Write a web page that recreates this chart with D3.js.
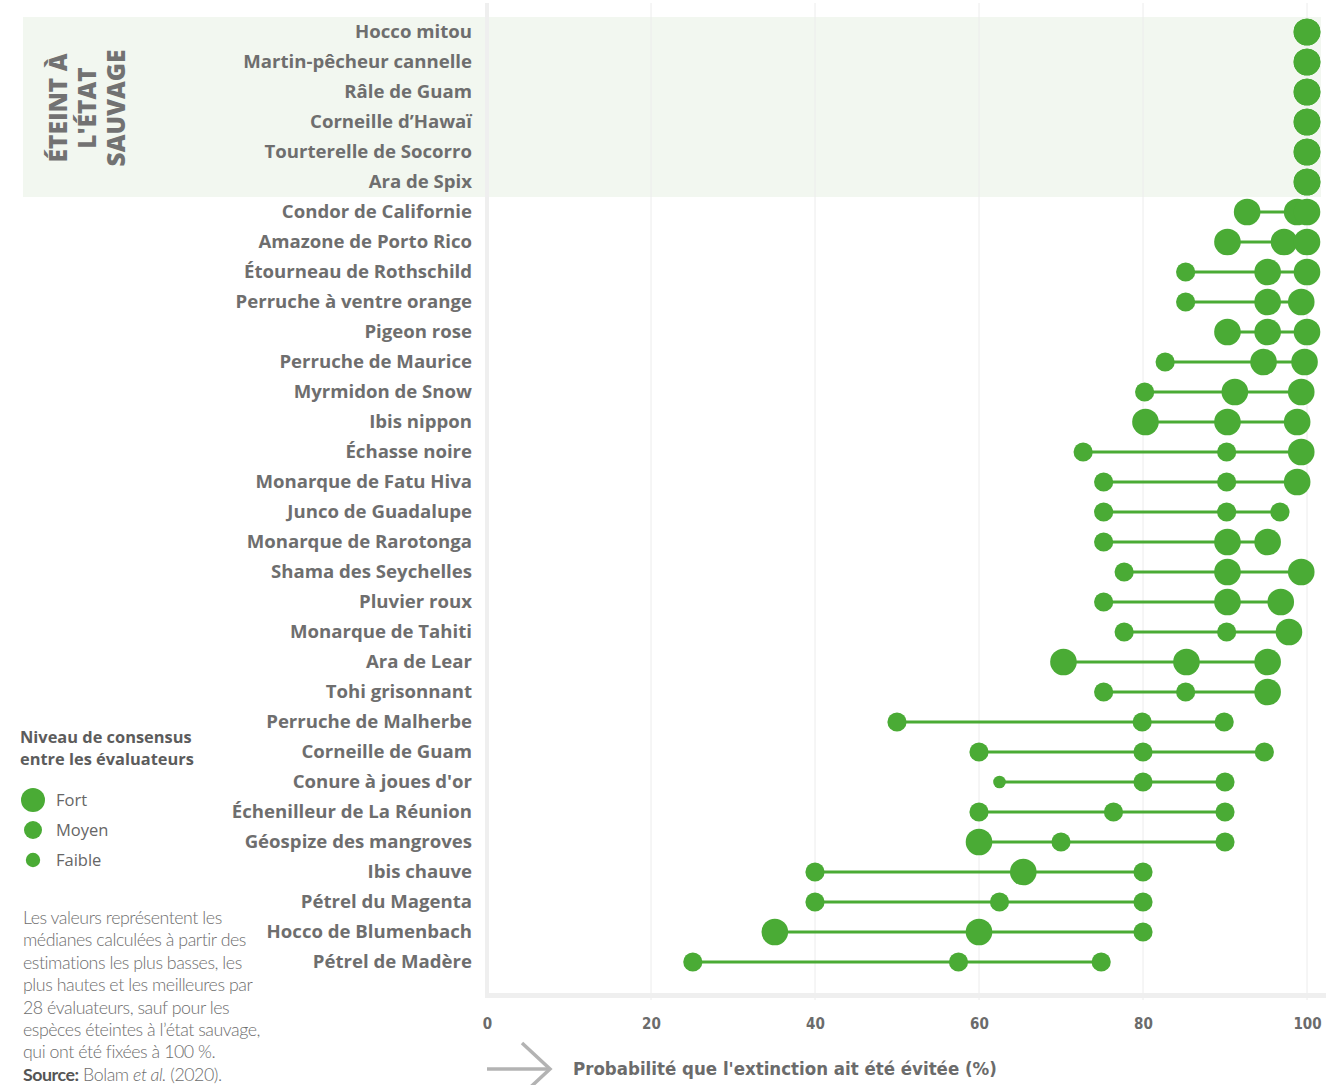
<!DOCTYPE html>
<html><head><meta charset="utf-8">
<script src="https://cdn.jsdelivr.net/npm/d3@7"></script>
<style>
html,body{margin:0;padding:0;background:#fff;}
svg{display:block;}
</style></head>
<body>
<svg id="chart" width="1326" height="1085"></svg>
<script>
const species = ["Hocco mitou","Martin-pêcheur cannelle","Râle de Guam","Corneille d’Hawaï","Tourterelle de Socorro","Ara de Spix","Condor de Californie","Amazone de Porto Rico","Étourneau de Rothschild","Perruche à ventre orange","Pigeon rose","Perruche de Maurice","Myrmidon de Snow","Ibis nippon","Échasse noire","Monarque de Fatu Hiva","Junco de Guadalupe","Monarque de Rarotonga","Shama des Seychelles","Pluvier roux","Monarque de Tahiti","Ara de Lear","Tohi grisonnant","Perruche de Malherbe","Corneille de Guam","Conure à joues d'or","Échenilleur de La Réunion","Géospize des mangroves","Ibis chauve","Pétrel du Magenta","Hocco de Blumenbach","Pétrel de Madère"];
const extinctCount = 6;
const low  = [100,100,100,100,100,100,92.7,90.3,85.2,85.2,90.3,82.7,80.2,80.3,72.7,75.2,75.2,75.2,77.7,75.2,77.7,70.3,75.2,50.0,60.0,62.5,60.0,60.0,40.0,40.0,35.1,25.1];
const best = [100,100,100,100,100,100,98.8,97.2,95.2,95.2,95.2,94.7,91.2,90.3,90.2,90.2,90.2,90.3,90.3,90.3,90.2,85.3,85.2,79.9,80.0,80.0,76.4,70.0,65.4,62.5,60.0,57.5];
const high = [100,100,100,100,100,100,100,100,100,99.3,100,99.7,99.3,98.8,99.3,98.8,96.7,95.2,99.3,96.8,97.8,95.2,95.2,89.9,94.8,90.0,90.0,90.0,80.0,80.0,80.0,74.9];
// consensus: F = Fort, M = Moyen, f = Faible
const lowCons  = ["F","F","F","F","F","F","F","F","M","M","F","M","M","F","M","M","M","M","M","M","M","F","M","M","M","f","M","F","M","M","F","M"];
const bestCons = ["F","F","F","F","F","F","F","F","F","F","F","F","F","F","M","M","M","F","F","F","M","F","M","M","M","M","M","M","F","M","F","M"];
const highCons = ["F","F","F","F","F","F","F","F","F","F","F","F","F","F","F","F","M","F","F","F","F","F","F","M","M","M","M","M","M","M","M","M"];
const xTicks = [0,20,40,60,80,100];
const legendKeys = ["F","M","f"];
const legendLabels = ["Fort","Moyen","Faible"];
const footnote = ["Les valeurs représentent les","médianes calculées à partir des","estimations les plus basses, les","plus hautes et les meilleures par","28 évaluateurs, sauf pour les","espèces éteintes à l’état sauvage,","qui ont été fixées à 100 %."];

const green = "#4aab35";
const labelGray = "#6e6e6e";
const svg = d3.select("#chart");

const x = d3.scaleLinear().domain([0,100]).range([487,1307]);
const y = d3.scalePoint().domain(species).range([32,962]);
const r = d3.scaleOrdinal().domain(["F","M","f"]).range([13.3,9.6,6.3]);
const rLegend = d3.scaleOrdinal().domain(["F","M","f"]).range([12,9,7.2]);

// extinct band
const step = y.step();
svg.append("rect")
  .attr("x",23).attr("y",y(species[0])-step/2)
  .attr("width",1321-23).attr("height",step*extinctCount)
  .attr("fill","#f2f7f0");

// gridlines
svg.append("g").selectAll("line").data(xTicks.slice(1)).join("line")
  .attr("x1",d=>x(d)).attr("x2",d=>x(d))
  .attr("y1",3).attr("y2",1000)
  .attr("stroke","#ececec").attr("stroke-width",1);

// left axis line
svg.append("line").attr("x1",x(0)).attr("x2",x(0)).attr("y1",3).attr("y2",997)
  .attr("stroke","#efefef").attr("stroke-width",4);
// bottom axis line
svg.append("line").attr("x1",x(0)-2).attr("x2",1326).attr("y1",995.5).attr("y2",995.5)
  .attr("stroke","#efefef").attr("stroke-width",5);

// x axis
const xAxis = d3.axisBottom(x).tickValues(xTicks).tickSize(0).tickPadding(0).tickFormat(d3.format("d"));
const gx = svg.append("g").attr("transform","translate(0,1018)").call(xAxis);
gx.select(".domain").remove();
gx.selectAll("text")
  .attr("font-family","'DejaVu Sans Condensed','DejaVu Sans',sans-serif")
  .attr("font-weight","bold").attr("font-size",15).attr("fill","#6b6b6b")
  .attr("dy","0.71em");

// species labels
const yAxis = d3.axisLeft(y).tickSize(0).tickPadding(0);
const gy = svg.append("g").attr("transform","translate(472,-1)").call(yAxis);
gy.select(".domain").remove();
gy.selectAll("text")
  .attr("font-family","'Open Sans',sans-serif").attr("font-weight",700)
  .attr("font-size",18.6).attr("fill",labelGray).attr("dy","0.35em");

// rows
const rows = species.map((s,i)=>({s,
  pts:[{v:low[i],c:lowCons[i]},{v:best[i],c:bestCons[i]},{v:high[i],c:highCons[i]}]}));
const gRows = svg.append("g");
gRows.selectAll("line").data(rows).join("line")
  .attr("x1",d=>x(d.pts[0].v)).attr("x2",d=>x(d.pts[2].v))
  .attr("y1",d=>y(d.s)).attr("y2",d=>y(d.s))
  .attr("stroke",green).attr("stroke-width",3);
gRows.selectAll("g.row").data(rows).join("g").attr("class","row")
  .selectAll("circle").data(d=>d.pts.map(p=>({...p,s:d.s}))).join("circle")
  .attr("cx",d=>x(d.v)).attr("cy",d=>y(d.s)).attr("r",d=>r(d.c))
  .attr("fill",green);

// vertical extinct label
const vt = svg.append("text")
  .attr("transform","translate(58,108) rotate(-90)")
  .attr("text-anchor","middle")
  .attr("font-family","'Open Sans',sans-serif").attr("font-weight",800)
  .attr("font-size",24.5).attr("fill","#727272");
["ÉTEINT À","L'ÉTAT","SAUVAGE"].forEach((t,i)=>{
  vt.append("tspan").attr("x",0).attr("y",i*29).attr("dy","0.35em").text(t);
});

// legend
const lg = svg.append("g");
lg.append("text").attr("x",20).attr("y",743)
  .attr("font-family","'Open Sans',sans-serif").attr("font-weight",700)
  .attr("font-size",16.4).attr("fill","#5c5c5c")
  .selectAll("tspan").data(["Niveau de consensus","entre les évaluateurs"]).join("tspan")
  .attr("x",20).attr("dy",(d,i)=>i?22:0).text(d=>d);
const li = lg.selectAll("g.li").data(legendKeys).join("g").attr("class","li")
  .attr("transform",(d,i)=>`translate(33,${800+i*30})`);
li.append("circle").attr("r",d=>rLegend(d)).attr("fill",green);
li.append("text").attr("x",23).attr("dy","0.35em")
  .attr("font-family","'Open Sans',sans-serif").attr("font-size",16.5).attr("fill","#666")
  .text((d,i)=>legendLabels[i]);

// footnote
const fn = svg.append("text").attr("font-family","Lato,'Open Sans',sans-serif")
  .attr("font-weight",300).attr("font-size",17.8).attr("fill","#6e6e6e").attr("letter-spacing",-0.45);
footnote.forEach((t,i)=>{
  fn.append("tspan").attr("x",23).attr("y",924+i*22.4).text(t);
});
const src = fn.append("tspan").attr("x",23).attr("y",924+7*22.4);
src.append("tspan").attr("font-weight",700).attr("fill","#555").text("Source:");
src.append("tspan").text(" Bolam ");
src.append("tspan").attr("font-style","italic").text("et al.");
src.append("tspan").text(" (2020).");

// axis title arrow
const ar = svg.append("g").attr("stroke","#b3b3b3").attr("stroke-width",3.5).attr("fill","none");
ar.append("line").attr("x1",487).attr("x2",548).attr("y1",1069).attr("y2",1069);
ar.append("polyline").attr("points","522,1043 550,1069 522,1095");
svg.append("text").attr("x",573).attr("y",1069).attr("dy","0.35em")
  .attr("font-family","'DejaVu Sans Condensed','DejaVu Sans',sans-serif")
  .attr("font-weight","bold").attr("font-size",18.5).attr("fill","#6b6b6b")
  .text("Probabilité que l'extinction ait été évitée (%)");
</script>
</body></html>
